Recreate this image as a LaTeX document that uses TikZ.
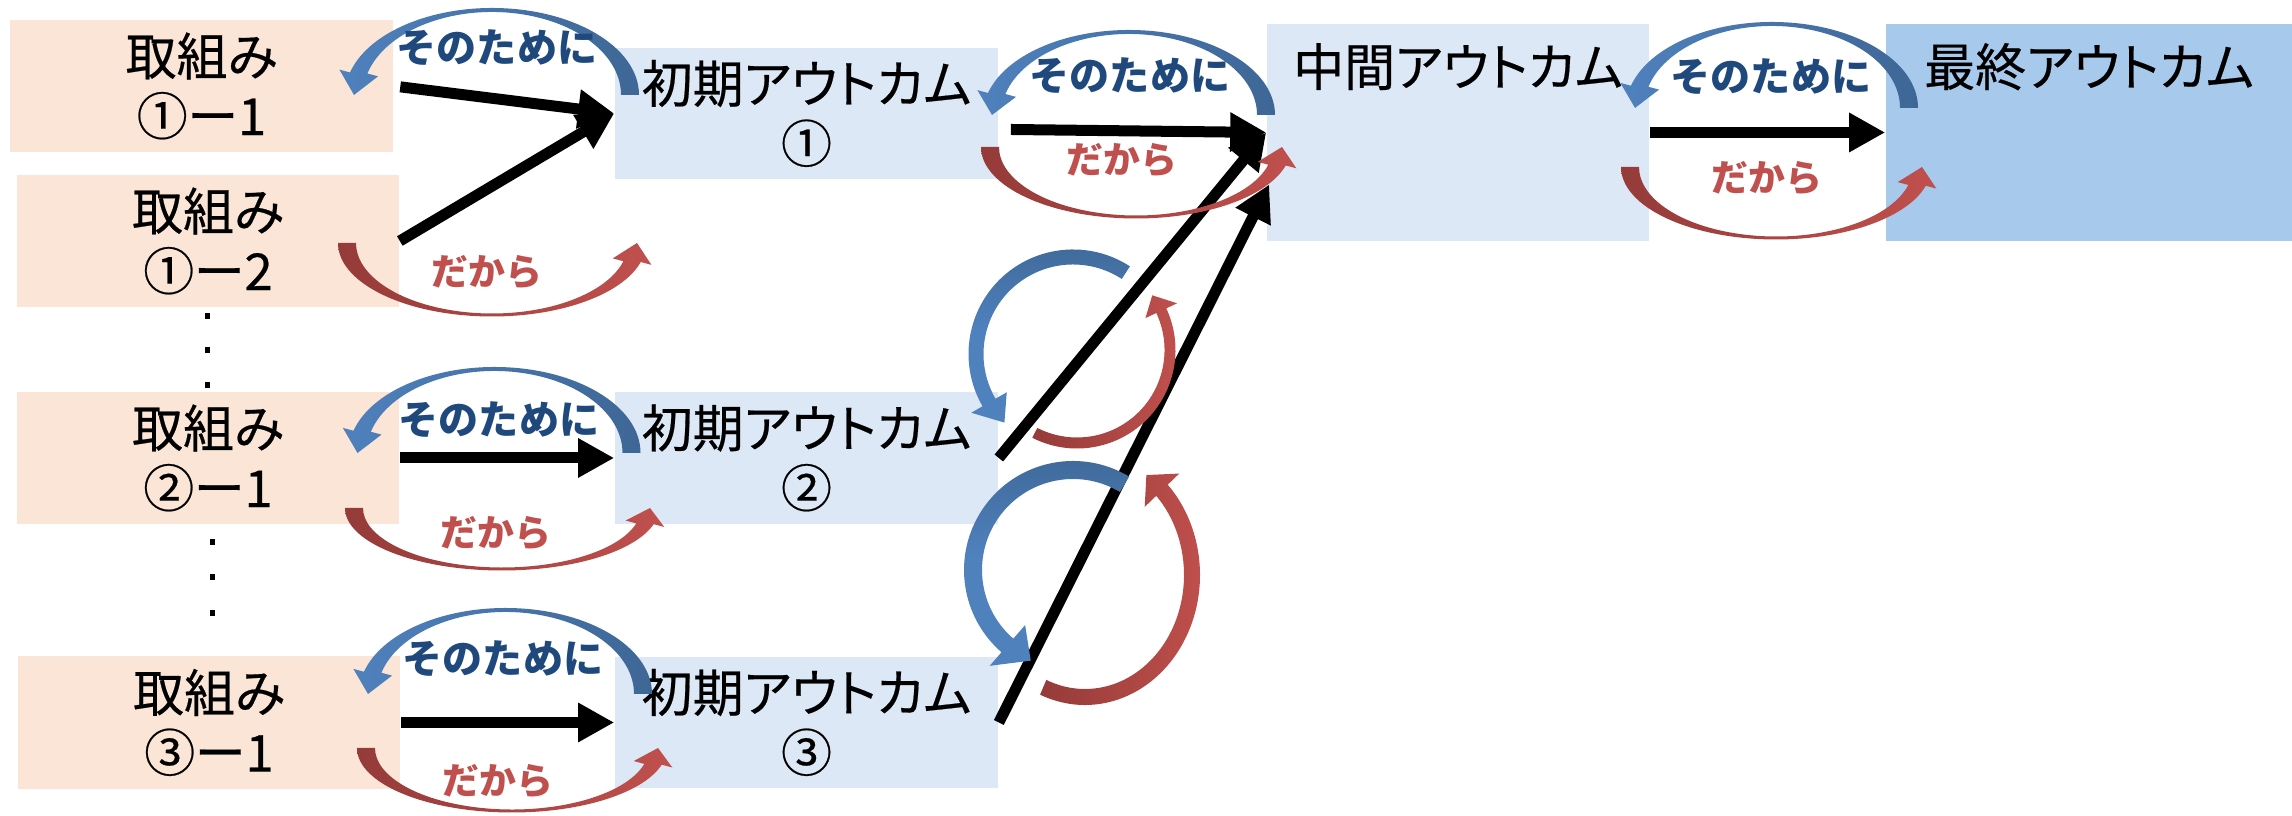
\documentclass[tikz,border=0pt]{standalone}
\usepackage{fontspec}
\usepackage{xcolor}
\usetikzlibrary{arrows.meta,calc}
\newfontfamily\jpfont{Noto Sans CJK JP}[CharacterWidth=AlternateProportional,FakeBold=0.4]
\newfontfamily\jplabel{Noto Sans CJK JP}
\newcommand\boxfont{\jpfont\fontsize{14.5pt}{17pt}\selectfont}
\newcommand\sonofont{\jplabel\bfseries\fontsize{11.4pt}{13pt}\selectfont}
\newcommand\dakarafont{\jplabel\bfseries\fontsize{10.5pt}{12pt}\selectfont}
\definecolor{peach}{HTML}{FBE5D6}
\definecolor{paleblue}{HTML}{DCE8F5}
\definecolor{midblue}{HTML}{A7C9EB}
\definecolor{arcblue}{HTML}{4F81BD}
\definecolor{arcblueD}{HTML}{3E6796}
\definecolor{arcred}{HTML}{C0504D}
\definecolor{arcredD}{HTML}{953B39}
\definecolor{txtblue}{HTML}{1F497D}
% curved band with head: shade, centre, rx, ry, start, head base, tip, half width x, half width y
\def\hd{11}
\newcommand{\bendarrow}[9]{%
  \pgfmathsetmacro\rxo{#3+#8}\pgfmathsetmacro\ryo{#4+#9}%
  \pgfmathsetmacro\rxi{#3-#8}\pgfmathsetmacro\ryi{#4-#9}%
  \begin{scope}[shift={(#2)}]
  \shade[#1] ({\rxo*cos(#5)},{\ryo*sin(#5)}) arc[start angle=#5,end angle=#6,x radius=\rxo,y radius=\ryo]
    -- ({(\rxo+\hd)*cos(#6)},{(\ryo+\hd)*sin(#6)}) -- ({#3*cos(#7)},{#4*sin(#7)})
    -- ({(\rxi-\hd)*cos(#6)},{(\ryi-\hd)*sin(#6)}) -- ({\rxi*cos(#6)},{\ryi*sin(#6)})
    arc[start angle=#6,end angle=#5,x radius=\rxi,y radius=\ryi] -- cycle;
  \end{scope}}

\begin{document}
\begin{tikzpicture}[x=0.01cm,y=0.01cm,
  abox/.style={fill=peach,minimum width=3.82cm,minimum height=1.32cm,inner sep=0pt,align=center,font=\boxfont,
    execute at begin node={\rule{0pt}{0.62cm}}},
  obox/.style={fill=paleblue,minimum width=3.83cm,minimum height=1.31cm,inner sep=0pt,align=center,font=\boxfont,
    execute at begin node={\rule{0pt}{0.64cm}}},
  topbox/.style={minimum width=#1,text height=0.62cm,text depth=1.55cm,inner sep=0pt,font=\boxfont},
  fat/.style={line width=0.11cm,-{Triangle[length=0.36cm,width=0.37cm]}},
  sono/.style={text=txtblue,font=\sonofont},
  dakara/.style={text=arcred,font=\dakarafont}]
\useasboundingbox (0,0) rectangle (2292,816);

\node[abox] (a11) at (201.5,730) {取組み\\①ー1};
\node[abox] (a12) at (208,575) {取組み\\①ー2};
\node[abox] (a21) at (208,358) {取組み\\②ー1};
\node[abox] (a31) at (209,93.5) {取組み\\③ー1};
\node[obox] (o1) at (806.5,702.5) {初期アウトカム\\①};
\node[obox] (o2) at (806.5,358) {初期アウトカム\\②};
\node[obox] (o3) at (806.5,93.5) {初期アウトカム\\③};
\node[topbox=3.82cm,fill=paleblue] (mid) at (1458,683.5) {中間アウトカム};
\node[topbox=4.06cm,fill=midblue] (fin) at (2089,683.5) {最終アウトカム};

\foreach \x/\y in {207/500,207/466,207/431,212/274,212/239,212/203}
  \fill (\x-2.5,\y-3) rectangle +(5,6);

\draw[fat,shorten <=0.07cm] (a11.east) -- (o1.west);
\draw[fat] (a12.east) -- (o1.west);
\draw[fat] (a21.east) -- (o2.west);
\draw[fat] (a31.east) -- (o3.west);
\draw[fat] ($(o1.east)+(12,-16)$) -- (mid.west);
\draw[fat] (o2.east) -- (mid.west);
\draw[fat] (o3.east) -- ($(mid.west)+(3,-52)$);
\draw[fat] (mid.east) -- (fin.west);

% そのために / だから
\bendarrow{left color=arcblue,right color=arcblueD}{492,721}{138}{85}{0}{165}{180}{9}{2}
\bendarrow{left color=arcblue,right color=arcblueD}{494.5,363}{137}{84}{0}{165}{180}{9}{2}
\bendarrow{left color=arcblue,right color=arcblueD}{505.5,122}{137.5}{84}{0}{165}{180}{9}{2}
\bendarrow{left color=arcblue,right color=arcblueD}{1129,701}{137}{83}{0}{165}{180}{9}{2}
\bendarrow{left color=arcblue,right color=arcblueD}{1772,708}{137}{84}{0}{165}{180}{9}{2}
\bendarrow{left color=arcredD,right color=arcred}{492,573}{145}{72}{180}{345}{360}{9}{1.5}
\bendarrow{left color=arcredD,right color=arcred}{502,308}{148}{61}{180}{345}{360}{9}{1.5}
\bendarrow{left color=arcredD,right color=arcred}{512,68}{146}{63}{180}{345}{360}{9}{1.5}
\bendarrow{left color=arcredD,right color=arcred}{1136,669}{146}{70}{180}{345}{360}{9}{1.5}
\bendarrow{left color=arcredD,right color=arcred}{1776,649}{146}{71}{180}{345}{360}{9}{1.5}
\def\hd{13}
\bendarrow{top color=arcblueD,bottom color=arcblue,middle color=arcblue}{1073,462}{97}{97}{57}{210}{225}{7.5}{7.5}
\def\hd{12}
\bendarrow{left color=arcredD,right color=arcred}{1077,466}{93}{93}{243}{385}{396}{5.5}{5.5}
\def\hd{18}
\bendarrow{top color=arcblueD,bottom color=arcblue,middle color=arcblue}{1073,246}{100}{100}{59}{229}{245}{9}{9}
\def\hd{16}
\bendarrow{left color=arcredD,right color=arcred}{1085,241}{107}{122}{247}{404}{415}{8}{8}

\node[sono] (s1) at (497,768.5) {そのために};
\node[sono] (s2) at (499,396) {そのために};
\node[sono] (s3) at (503,157) {そのために};
\node[sono] (s4) at (1130,740) {そのために};
\node[sono] (s5) at (1771,739) {そのために};
\node[dakara] (d1) at (487,544) {だから};
\node[dakara] (d2) at (496,283) {だから};
\node[dakara] (d3) at (498,35) {だから};
\node[dakara] (d4) at (1122,656) {だから};
\node[dakara] (d5) at (1767,638) {だから};
\end{tikzpicture}
\end{document}
